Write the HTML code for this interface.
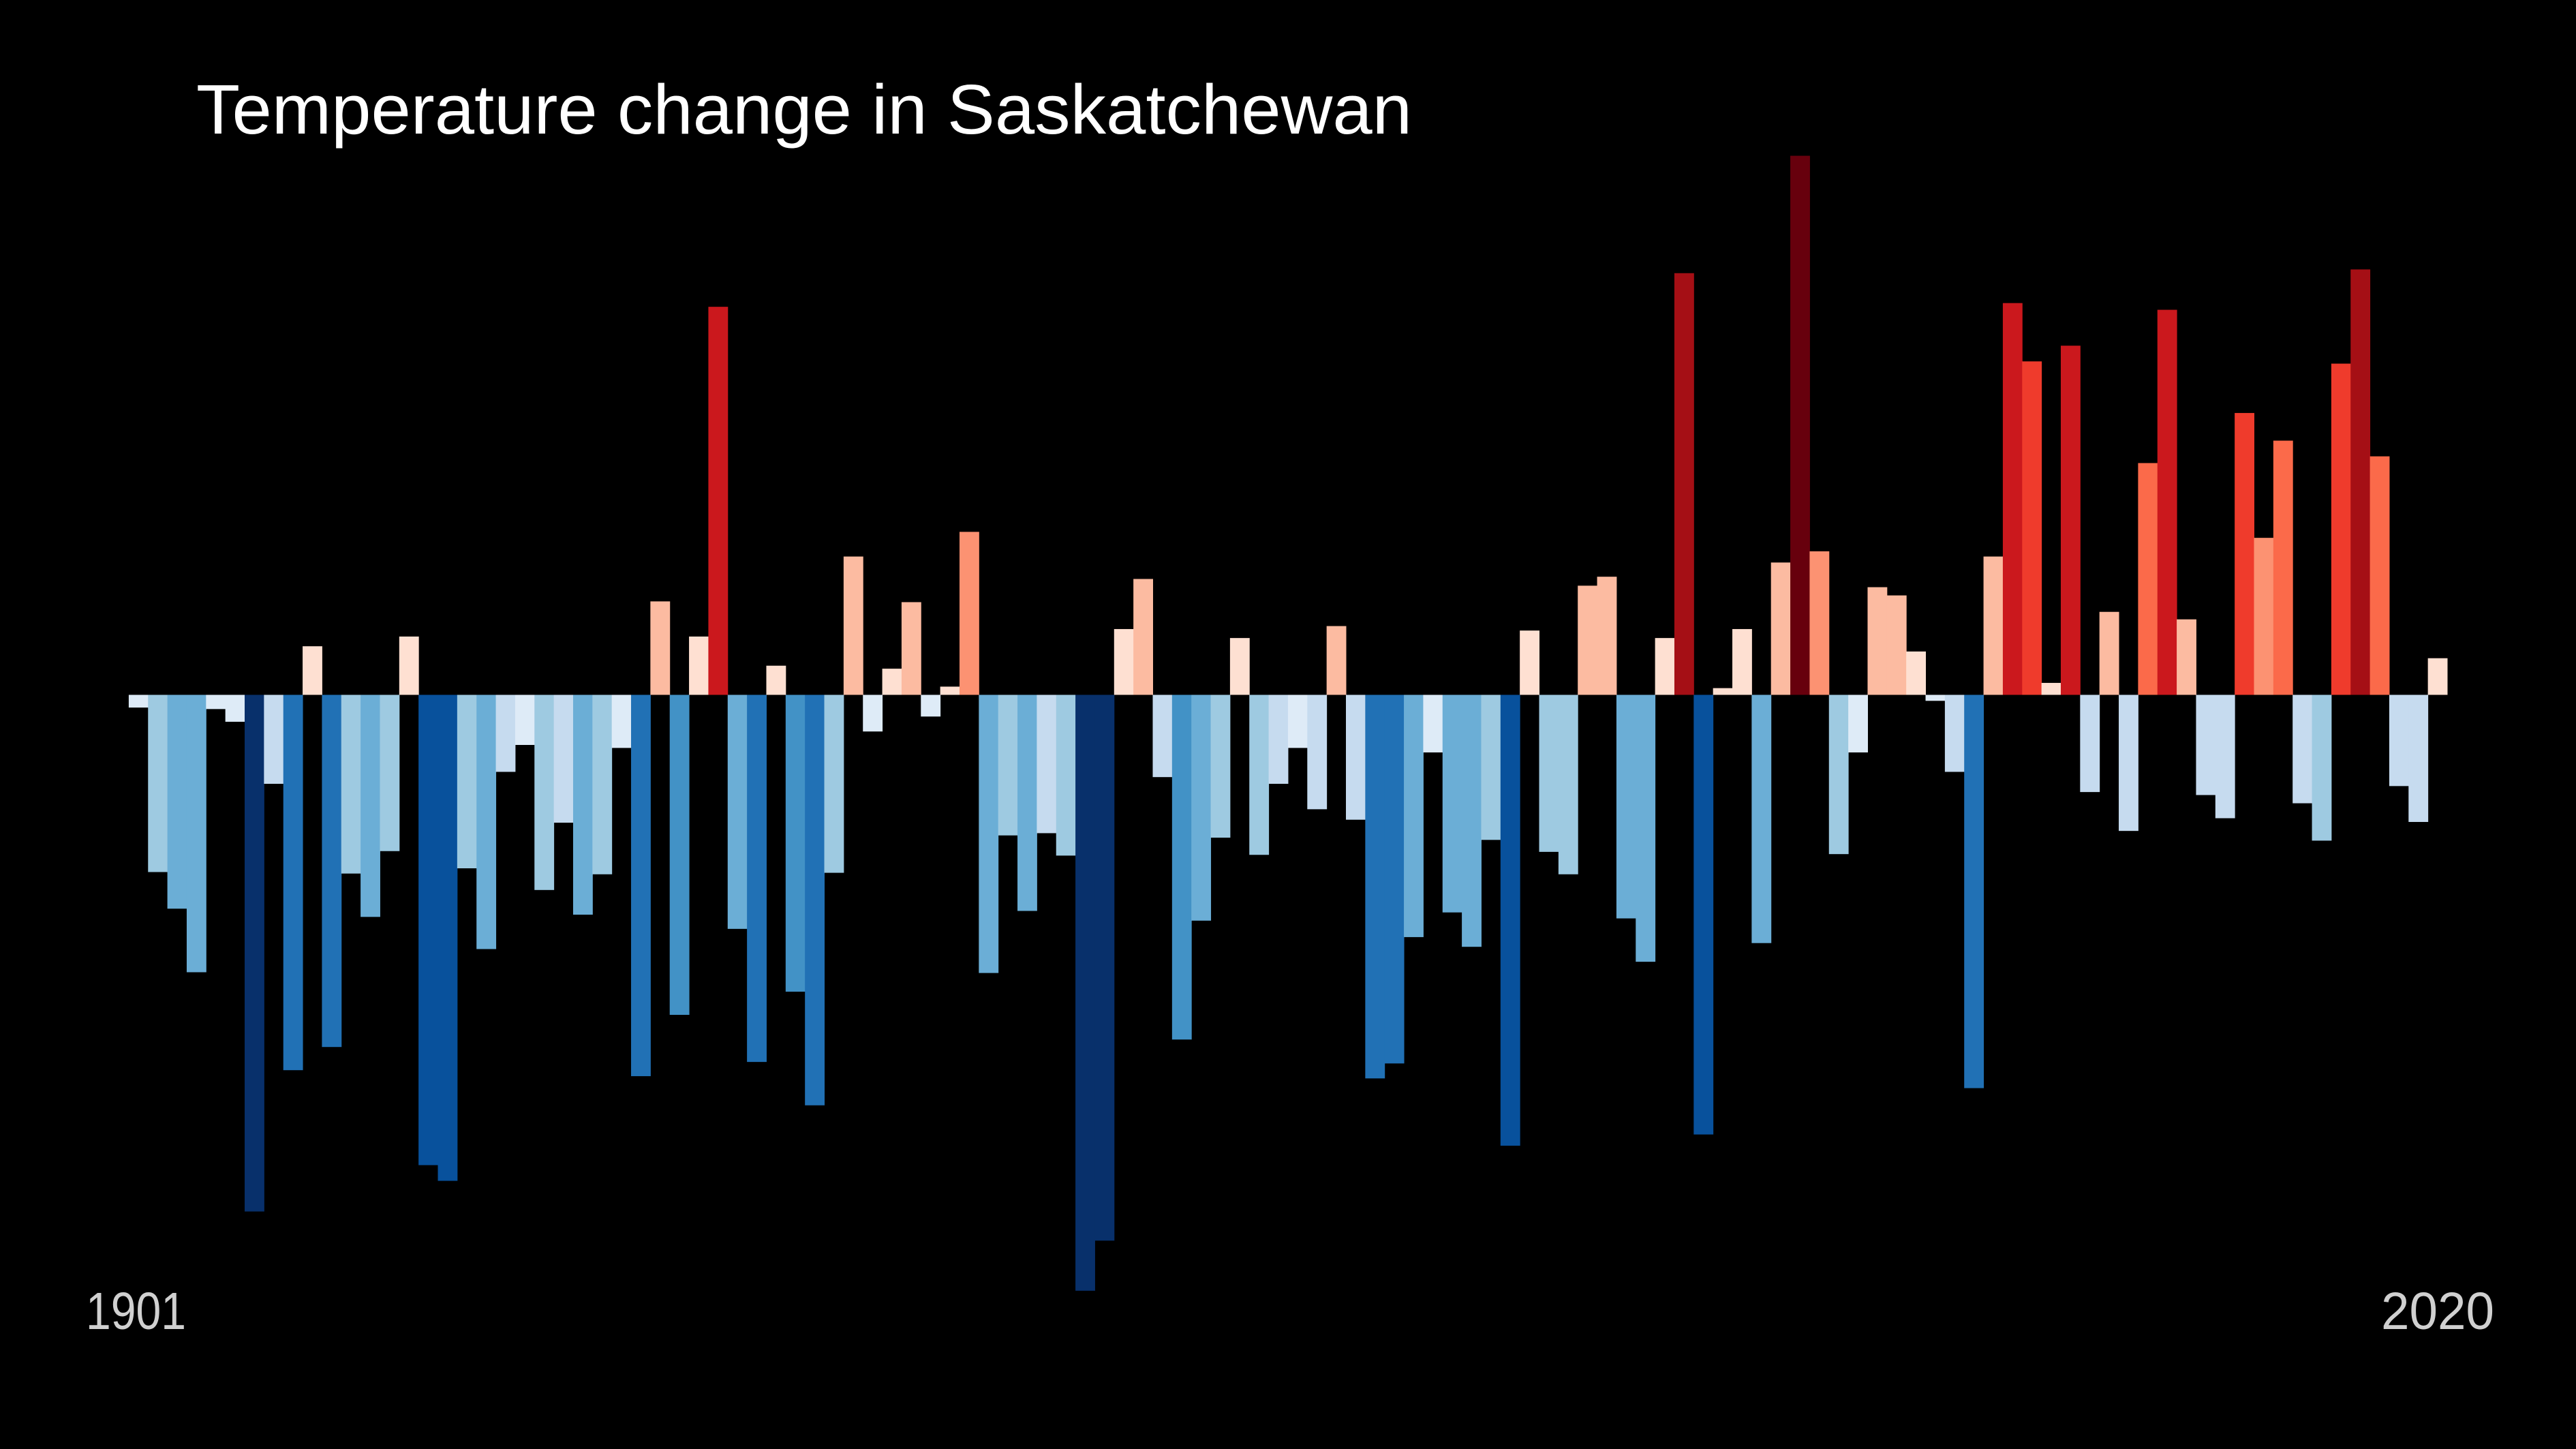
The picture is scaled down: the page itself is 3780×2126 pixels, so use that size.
<!DOCTYPE html>
<html>
<head>
<meta charset="utf-8">
<style>
html,body{margin:0;padding:0;background:#000;}
svg{display:block;}
</style>
</head>
<body>
<svg id="chart" width="3780" height="2126" viewBox="0 0 3780 2126" xmlns="http://www.w3.org/2000/svg">
  <rect x="0" y="0" width="3780" height="2126" fill="#000"/>
  <text x="288" y="196" font-family="'Liberation Sans', Arial, sans-serif" font-size="103" fill="#fff" textLength="1784" lengthAdjust="spacingAndGlyphs">Temperature change in Saskatchewan</text>
  <g id="bars"></g>
  <text id="label-start" x="126" y="1950" font-family="'Liberation Sans', Arial, sans-serif" font-size="77" fill="#d0d0d0" textLength="147" lengthAdjust="spacingAndGlyphs"></text>
  <text id="label-end" x="3494" y="1950" font-family="'Liberation Sans', Arial, sans-serif" font-size="77" fill="#d0d0d0" textLength="166" lengthAdjust="spacingAndGlyphs"></text>
</svg>
<script>
const startYear = 1901;
const endYear = 2020;
const yearLabels = ["1901", "2020"];
const anomalies = [
 -0.17,-2.37,-2.86,-3.71,-0.19,-0.36,-6.91,-1.19,-5.02,0.65,
 -4.71,-2.39,-2.97,-2.09,0.78,-6.29,-6.50,-2.32,-3.40,-1.03,
 -0.67,-2.61,-1.71,-2.94,-2.40,-0.71,-5.10,1.25,-4.28,0.78,
 5.19,-3.13,-4.91,0.39,-3.97,-5.49,-2.38,1.85,-0.49,0.35,
 1.24,-0.29,0.11,2.18,-3.72,-1.88,-2.89,-1.85,-2.15,-7.97,
 -7.30,0.88,1.55,-1.10,-4.61,-3.02,-1.91,0.76,-2.14,-1.19,
 -0.71,-1.53,0.92,-1.67,-5.13,-4.93,-3.24,-0.77,-2.91,-3.37,
 -1.94,-6.03,0.86,-2.10,-2.40,1.46,1.58,-2.99,-3.57,0.76,
 5.64,-5.88,0.09,0.88,-3.32,1.77,7.21,1.92,-2.13,-0.77,
 1.44,1.33,0.58,-0.08,-1.03,-5.26,1.85,5.24,4.46,0.16,
 4.67,-1.30,1.11,-1.82,3.10,5.15,1.01,-1.34,-1.65,3.77,
 2.10,3.40,-1.45,-1.95,4.43,5.69,3.19,-1.22,-1.70,0.49
];
const posColors = ["#fee0d2","#fcbba1","#fc9272","#fb6a4a","#ef3b2c","#cb181d","#a50f15","#67000d"];
const posThresholds = [0.90, 1.88, 2.80, 3.70, 4.60, 5.55, 6.50];
const negColors = ["#deebf7","#c6dbef","#9ecae1","#6baed6","#4292c6","#2171b5","#08519c","#08306b"];
const negThresholds = [0.90, 1.865, 2.68, 3.85, 4.65, 5.70, 6.60];

const plotLeft = 188.9, plotRight = 3591.0, zeroY = 1019.5, pxPerUnit = 109.7;
function xScale(i){ return plotLeft + i * (plotRight - plotLeft) / anomalies.length; }
function yScale(v){ return zeroY - v * pxPerUnit; }
function colorFor(v){
  const a = Math.abs(v), th = v >= 0 ? posThresholds : negThresholds, cs = v >= 0 ? posColors : negColors;
  let k = 0; while (k < th.length && a >= th[k]) k++;
  return cs[k];
}
const g = document.getElementById('bars');
const bw = (plotRight - plotLeft) / anomalies.length;
anomalies.forEach((v, i) => {
  const r = document.createElementNS('http://www.w3.org/2000/svg', 'rect');
  const y0 = yScale(0), y1 = yScale(v);
  r.setAttribute('x', xScale(i));
  r.setAttribute('y', Math.min(y0, y1));
  r.setAttribute('width', bw + 0.5);
  r.setAttribute('height', Math.abs(y1 - y0));
  r.setAttribute('fill', colorFor(v));
  
  
  g.appendChild(r);
});
document.getElementById('label-start').textContent = yearLabels[0];
document.getElementById('label-end').textContent = yearLabels[1];
</script>
</body>
</html>
